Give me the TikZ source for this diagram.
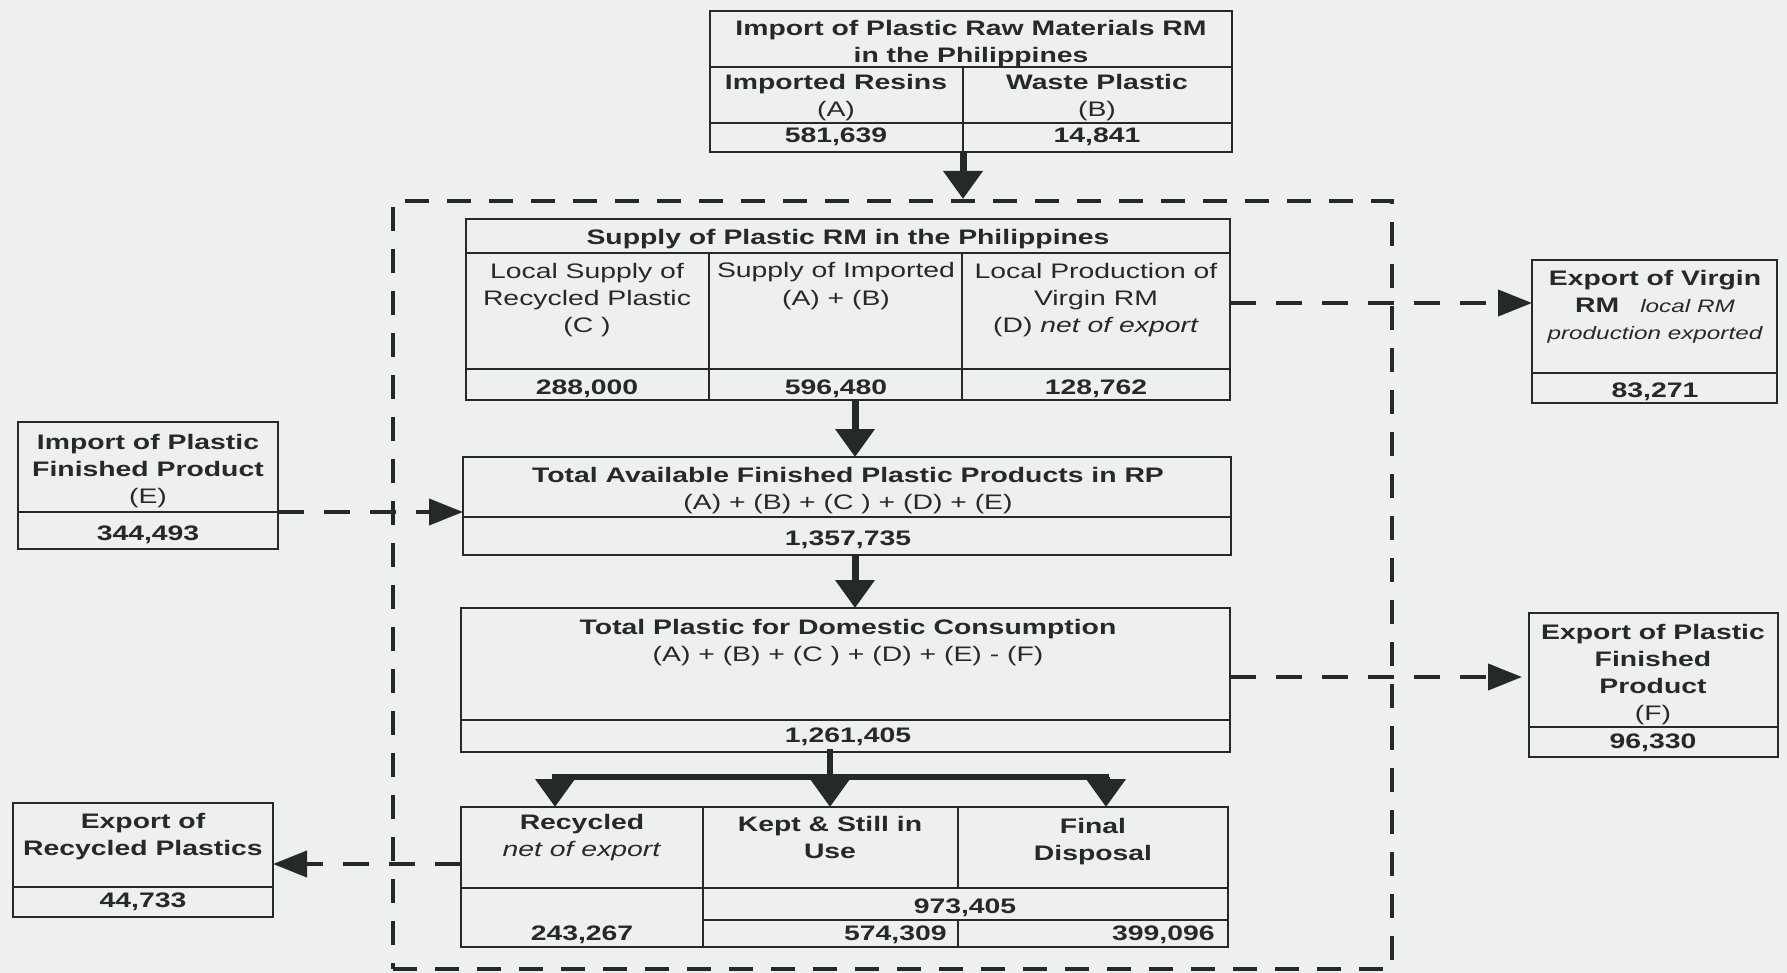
\documentclass[tikz,border=0pt]{standalone}
\usepackage{fontspec}
\setmainfont{Liberation Sans}[FakeStretch=1.35]
\usetikzlibrary{arrows.meta,positioning}

\definecolor{ink}{RGB}{38,42,38}
\definecolor{paper}{RGB}{238,239,240}

% one table cell: name, left, top, right, bottom (scan pixels)
\newcommand{\tabcell}[5]{%
  \node[cell, minimum width={(#4-#2)*0.5pt}, minimum height={(#5-#3)*0.5pt}] (#1) at (#2,#3) {};}

\begin{document}
\begin{tikzpicture}[x=0.5pt, y=-0.5pt,
  cell/.style={draw=ink, line width=1.4pt, anchor=north west, inner sep=0pt, outer sep=0pt},
  txt/.style={text=ink, align=center, inner sep=0pt, anchor=base, font=\fontsize{10.5}{13.5}\selectfont},
  num/.style={txt, font=\fontsize{10.5}{13.5}\selectfont\bfseries},
  zone/.style={draw=ink, line width=2pt, dash pattern=on 12pt off 9pt, anchor=north west, inner sep=0pt},
  flow/.style={draw=ink, line width=3.5pt, -{Triangle[width=19pt,length=14pt]}},
  bar/.style={draw=ink, line width=3pt, line cap=rect},
  leak/.style={draw=ink, line width=2pt, dash pattern=on 13pt off 10pt, -{Triangle[width=13pt,length=17pt]}},
]
  \fill[paper] (0,0) rectangle (1787,973);
  \useasboundingbox (0,0) rectangle (1787,973);

  % import of raw materials (text nodes sit on the baseline of their last line)
  \tabcell{rm-t}{710}{11}{1232}{67}
  \tabcell{rm-a}{710}{67}{963}{123}
  \tabcell{rm-b}{963}{67}{1232}{123}
  \tabcell{rm-av}{710}{123}{963}{152}
  \tabcell{rm-bv}{963}{123}{1232}{152}
  \node[num] (rm-tt) at (971,63) {Import of Plastic Raw Materials RM\\in the Philippines};
  \node[txt] (rm-at) at (836,117) {\textbf{Imported Resins}\\(A)};
  \node[txt] (rm-bt) at (1097,117) {\textbf{Waste Plastic}\\(B)};
  \node[num] (rm-an) at (836,143) {581,639};
  \node[num] (rm-bn) at (1097,143) {14,841};

  % domestic zone
  \node[zone, minimum width={999*0.5pt}, minimum height={768*0.5pt}] (hub) at (391,199) {};
  \draw[flow] (rm-av.south east) -- (rm-av.south east |- hub.north);

  % supply of raw materials
  \tabcell{sup-t}{466}{219}{1230}{253}
  \tabcell{sup-c}{466}{253}{709}{369}
  \tabcell{sup-ab}{709}{253}{962}{369}
  \tabcell{sup-d}{962}{253}{1230}{369}
  \tabcell{sup-cv}{466}{369}{709}{400}
  \tabcell{sup-abv}{709}{369}{962}{400}
  \tabcell{sup-dv}{962}{369}{1230}{400}
  \node[num] (sup-tt) at (848,244) {Supply of Plastic RM in the Philippines};
  \node[txt] (sup-ct) at (587,332) {Local Supply of\\Recycled Plastic\\(C )};
  \node[txt] (sup-abt) at (836,305) {Supply of Imported\\(A) + (B)};
  \node[txt] (sup-dt) at (1096,332) {Local Production of\\Virgin RM\\(D) \textit{net of export}};
  \node[num] (sup-cn) at (587,394) {288,000};
  \node[num] (sup-abn) at (836,394) {596,480};
  \node[num] (sup-dn) at (1096,394) {128,762};

  % export of virgin RM
  \tabcell{exv-t}{1532}{260}{1777}{373}
  \tabcell{exv-v}{1532}{373}{1777}{403}
  \node[txt] (exv-tt) at (1655,339) {\textbf{Export of Virgin}\\\textbf{RM}\quad{\fontsize{9}{13.5}\selectfont\itshape local RM}\\{\fontsize{9}{13.5}\selectfont\itshape production exported}};
  \node[num] (exv-n) at (1655,397) {83,271};
  \draw[leak] (sup-d.east |- 0,303) -- (exv-t.west |- 0,303);

  % import of finished product
  \tabcell{imp-t}{18}{422}{278}{512}
  \tabcell{imp-v}{18}{512}{278}{549}
  \node[txt] (imp-tt) at (148,503) {\textbf{Import of Plastic}\\\textbf{Finished Product}\\(E)};
  \node[num] (imp-n) at (148,540) {344,493};

  % total available
  \tabcell{tot-t}{463}{457}{1231}{517}
  \tabcell{tot-v}{463}{517}{1231}{555}
  \node[txt] (tot-tt) at (848,509) {\textbf{Total Available Finished Plastic Products in RP}\\(A) + (B) + (C ) + (D) + (E)};
  \node[num] (tot-n) at (848,545) {1,357,735};
  \draw[flow] ([xshift=4pt]sup-abv.south -| tot-t.north) -- ([xshift=4pt]tot-t.north);
  \draw[leak] (imp-t.south east) -- (tot-t.west |- imp-t.south east);

  % domestic consumption
  \tabcell{dom-t}{461}{608}{1230}{720}
  \tabcell{dom-v}{461}{720}{1230}{752}
  \node[txt] (dom-tt) at (848,661) {\textbf{Total Plastic for Domestic Consumption}\\(A) + (B) + (C ) + (D) + (E) - (F)};
  \node[num] (dom-n) at (848,742) {1,261,405};
  \draw[flow] ([xshift=4pt]tot-v.south) -- ([xshift=4pt]tot-v.south |- dom-t.north);

  % export of finished product
  \tabcell{exf-t}{1529}{613}{1778}{727}
  \tabcell{exf-v}{1529}{727}{1778}{757}
  \node[txt] (exf-tt) at (1653,720) {\textbf{Export of Plastic}\\\textbf{Finished}\\\textbf{Product}\\(F)};
  \node[num] (exf-n) at (1653,748) {96,330};
  \draw[leak, shorten >=3.5pt] (dom-t.east |- 0,677) -- (exf-t.west |- 0,677);

  % end of life
  \tabcell{rec-h}{461}{807}{703}{888}
  \tabcell{rec-v}{461}{888}{703}{947}
  \tabcell{kep-h}{703}{807}{958}{888}
  \tabcell{fin-h}{958}{807}{1228}{888}
  \tabcell{sum-v}{703}{888}{1228}{920}
  \tabcell{kep-v}{703}{920}{958}{947}
  \tabcell{fin-v}{958}{920}{1228}{947}
  \node[txt] (rec-t) at (582,856) {\textbf{Recycled}\\\textit{net of export}};
  \node[num] (kep-t) at (830,858) {Kept \& Still in\\Use};
  \node[num] (fin-t) at (1093,860) {Final\\Disposal};
  \node[num] (sum-n) at (965,913) {973,405};
  \node[num] (rec-n) at (582,940) {243,267};
  \node[num, anchor=base east] (kep-n) at (947,940) {574,309};
  \node[num, anchor=base east] (fin-n) at (1215,940) {399,096};

  \coordinate (fork) at (830,777);
  \coordinate (fork-l) at (555,777);
  \coordinate (fork-r) at (1106,777);
  \draw[bar] (dom-v.south -| fork) -- (fork);
  \draw[bar] (fork-l) -- (fork-r);
  \draw[flow] (fork-l) -- (fork-l |- rec-h.north);
  \draw[flow] (fork) -- (fork |- kep-h.north);
  \draw[flow] (fork-r) -- (fork-r |- fin-h.north);

  % export of recycled plastics
  \tabcell{exr-t}{13}{803}{273}{887}
  \tabcell{exr-v}{13}{887}{273}{917}
  \node[num] (exr-tt) at (143,855) {Export of\\Recycled Plastics};
  \node[num] (exr-n) at (143,907) {44,733};
  \draw[leak] (rec-h.west |- 0,864) -- (exr-t.east |- 0,864);
\end{tikzpicture}
\end{document}
